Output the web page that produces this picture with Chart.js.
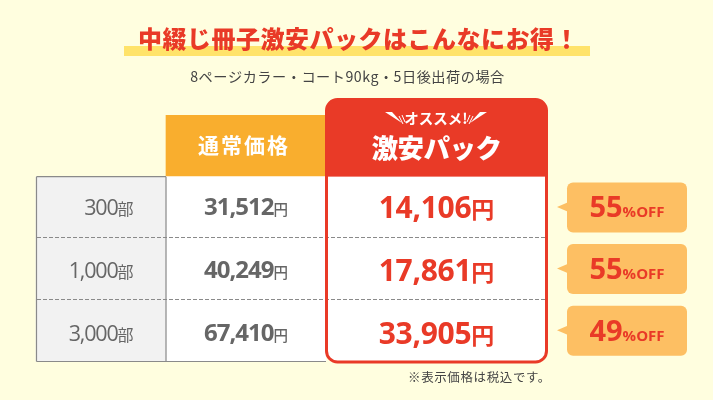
<!DOCTYPE html>
<html lang="ja">
<head>
<meta charset="utf-8">
<style>html,body{margin:0;padding:0;background:#FFFEDF}canvas{display:block}</style>
<script src="https://cdn.jsdelivr.net/npm/chart.js@4"></script>
</head>
<body>
<canvas id="c" width="713" height="400"></canvas>
<script>
const titleText = '中綴じ冊子激安パックはこんなにお得！';
const subtitleText = '8ページカラー・コート90kg・5日後出荷の場合';
const footnoteText = '※表示価格は税込です。';
const recommendText = 'オススメ!';
const regularHeader = '通常価格';
const packHeader = '激安パック';
const quantities = [300, 1000, 3000];
const regularPrices = [31512, 40249, 67410];
const packPrices = [14106, 17861, 33905];
const discountPercents = [55, 55, 49];
const quantityUnit = '部';
const priceUnit = '円';
const discountUnit = '%OFF';
const rows = ['', ...quantities.map(q => q.toLocaleString('en-US') + quantityUnit)];

const RED = '#E93A27', ORANGE = '#F9AE2E', BADGE = '#FDBF63', GRAY = '#666666', LINE = '#8A8A8A';
const JP = '"Noto Sans CJK JP"', NUM = '"Open Sans"';
const rowNudge = [-0.4, 1, 2.4];
const span = (a, b, withHeader) => rows.map((_, i) => (i === 0 && !withHeader) ? null : [a, b]);
const fmt = n => n.toLocaleString('en-US');

function mixed(ctx, cx, cy, parts, align) {
  ctx.textBaseline = 'alphabetic';
  ctx.textAlign = 'left';
  let w = 0;
  parts.forEach(p => { ctx.font = p.font; ctx.letterSpacing = (p.ls || 0) + 'px'; p.w = ctx.measureText(p.t).width; w += p.w; });
  let x = align === 'right' ? cx - w : cx - w / 2;
  parts.forEach(p => {
    ctx.font = p.font; ctx.letterSpacing = (p.ls || 0) + 'px'; ctx.fillStyle = p.color;
    ctx.fillText(p.t, x, cy); x += p.w;
  });
  ctx.letterSpacing = '0px';
}
function roundedPath(ctx, x0, y0, x1, y1, r) {
  ctx.beginPath(); ctx.roundRect(x0, y0, x1 - x0, y1 - y0, r);
}

const tablePlugin = {
  id: 'tablePlugin',
  beforeDraw(chart) {
    const { ctx, width, height } = chart;
    ctx.save();
    ctx.fillStyle = '#FFFEDF'; ctx.fillRect(0, 0, width, height);
    ctx.fillStyle = '#FFE36A'; ctx.fillRect(124, 46, 466, 10);
    ctx.restore();
  },
  afterDatasetsDraw(chart) {
    const { ctx, scales: { x, y } } = chart;
    const rowH = y.getPixelForValue(2) - y.getPixelForValue(1);
    const rowTop = y.getPixelForValue(1) - rowH / 2;
    const bottom = rowTop + rowH * 3;
    const X = v => x.getPixelForValue(v);
    ctx.save();
    // table lines
    ctx.strokeStyle = LINE; ctx.lineWidth = 1.2;
    ctx.beginPath();
    ctx.moveTo(X(36.5), rowTop); ctx.lineTo(X(166), rowTop);
    ctx.moveTo(X(36.5), rowTop); ctx.lineTo(X(36.5), bottom);
    ctx.moveTo(X(166), rowTop); ctx.lineTo(X(166), bottom);
    ctx.moveTo(X(36.5), bottom); ctx.lineTo(X(326), bottom);
    ctx.stroke();
    // pack card
    const cx0 = X(326.5), cx1 = X(546.5), cy0 = 99.5, cy1 = bottom + 0.5;
    ctx.save();
    roundedPath(ctx, cx0, cy0, cx1, cy1, 11);
    ctx.fillStyle = '#FFFFFF'; ctx.fill();
    ctx.clip();
    ctx.fillStyle = RED; ctx.fillRect(cx0, cy0, cx1 - cx0, rowTop - cy0);
    ctx.restore();
    // dashed row rules
    ctx.setLineDash([4, 2]); ctx.strokeStyle = LINE; ctx.lineWidth = 1;
    [1, 2].forEach(i => {
      const ly = Math.floor(rowTop + rowH * i - 0.3) + 0.5;
      ctx.beginPath(); ctx.moveTo(X(37), ly); ctx.lineTo(X(545), ly); ctx.stroke();
    });
    ctx.setLineDash([]);
    roundedPath(ctx, cx0, cy0, cx1, cy1, 11);
    ctx.strokeStyle = RED; ctx.lineWidth = 3; ctx.stroke();
    // badge tails
    ctx.fillStyle = BADGE;
    discountPercents.forEach((_, i) => {
      const py = y.getPixelForValue(i + 1);
      ctx.beginPath(); ctx.moveTo(X(567.5), py - 5); ctx.lineTo(X(557), py - 0.5); ctx.lineTo(X(567.5), py + 4); ctx.closePath(); ctx.fill();
    });
    // title
    ctx.textAlign = 'center'; ctx.textBaseline = 'alphabetic';
    ctx.font = '900 24px ' + JP; ctx.letterSpacing = '0.5px'; ctx.fillStyle = RED;
    ctx.fillText(titleText, 358.5, 48);
    ctx.font = '400 14.2px ' + JP; ctx.letterSpacing = '0.5px'; ctx.fillStyle = '#444444';
    ctx.fillText(subtitleText, 347.5, 81.5);
    ctx.font = '400 12.5px ' + JP; ctx.letterSpacing = '0.6px'; ctx.fillStyle = '#444444';
    ctx.fillText(footnoteText, 479.5, 382);
    // headers
    const hY = y.getPixelForValue(0);
    ctx.fillStyle = '#FFFFFF';
    ctx.font = '700 21px ' + JP; ctx.letterSpacing = '2px';
    ctx.fillText(regularHeader, 244, hY + 7);
    ctx.font = '900 26.5px ' + JP; ctx.letterSpacing = '-0.5px';
    ctx.fillText(packHeader, 436.5, 158);
    ctx.font = '700 14.5px ' + JP; ctx.letterSpacing = '0px';
    ctx.fillText(recommendText, 436, 124);
    // burst marks
    [-1, 1].forEach(s => {
      const m = v => 436 + s * v;
      ctx.beginPath(); ctx.moveTo(m(51), 112); ctx.lineTo(m(44), 112); ctx.lineTo(m(34), 123); ctx.closePath(); ctx.fill();
      ctx.lineWidth = 1; ctx.strokeStyle = '#FFFFFF';
      ctx.beginPath(); ctx.moveTo(m(37), 116); ctx.lineTo(m(33), 124); ctx.stroke();
      ctx.beginPath(); ctx.moveTo(m(34), 115); ctx.lineTo(m(31), 122); ctx.stroke();
    });
    // rows
    rows.forEach((_, r) => {
      if (r === 0) return;
      const i = r - 1, py = y.getPixelForValue(r) + rowNudge[i];
      mixed(ctx, X(133.5), py + 8, [
        { t: fmt(quantities[i]), font: '400 21.5px ' + NUM, ls: -1.2, color: GRAY },
        { t: quantityUnit, font: '400 16px ' + JP, color: GRAY }
      ], 'right');
      mixed(ctx, X(246), py + 8, [
        { t: fmt(regularPrices[i]), font: '700 24px ' + NUM, ls: -1, color: GRAY },
        { t: priceUnit, font: '500 14.5px ' + JP, color: GRAY }
      ]);
      mixed(ctx, X(436.5), py + 10.6, [
        { t: fmt(packPrices[i]), font: '700 30px ' + NUM, ls: -0.3, color: RED },
        { t: priceUnit, font: '700 23px ' + JP, color: RED }
      ]);
      mixed(ctx, X(627), y.getPixelForValue(r) + 10, [
        { t: String(discountPercents[i]), font: '700 29px ' + NUM, ls: 0, color: RED },
        { t: discountUnit, font: '700 15px ' + NUM, ls: 0, color: RED }
      ]);
    });
    ctx.restore();
  }
};

new Chart(document.getElementById('c'), {
  type: 'bar',
  data: {
    labels: rows,
    datasets: [
      { label: 'quantity', data: span(36, 166), backgroundColor: '#F2F2F2', grouped: false, barPercentage: 1, categoryPercentage: 1 },
      { label: 'regular', data: span(166, 326, true), backgroundColor: [ORANGE, '#FFFFFF', '#FFFFFF', '#FFFFFF'], grouped: false, barPercentage: 1, categoryPercentage: 1 },
      { label: 'discount', data: span(567, 687), backgroundColor: BADGE, borderRadius: 6, borderSkipped: false, grouped: false, barPercentage: 0.81, categoryPercentage: 1 }
    ]
  },
  options: {
    indexAxis: 'y',
    responsive: false,
    animation: false,
    devicePixelRatio: 1,
    layout: { padding: { top: 115, bottom: 38.5, left: 0, right: 0 } },
    scales: {
      x: { type: 'linear', min: 0, max: 713, display: false },
      y: { type: 'category', display: false }
    },
    plugins: { legend: { display: false }, tooltip: { enabled: false }, title: { display: false } }
  },
  plugins: [tablePlugin]
});
</script>
</body>
</html>
